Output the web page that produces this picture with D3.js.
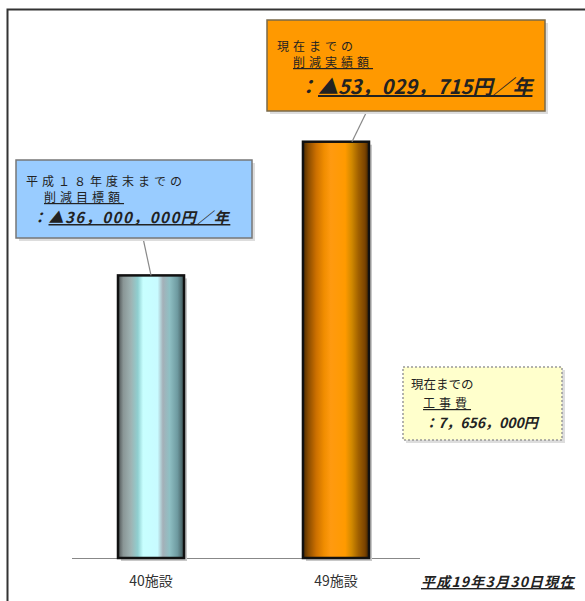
<!DOCTYPE html>
<html>
<head>
<meta charset="utf-8">
<script src="https://cdn.jsdelivr.net/npm/d3@7"></script>
<style>
  html, body { margin: 0; padding: 0; background: #fff; }
  svg { display: block; }
  text { font-family: "Noto Sans CJK JP", "Noto Sans", sans-serif; }
</style>
</head>
<body>
<svg id="chart" width="585" height="601"></svg>
<script>
// Facilities covered and yearly reduction amounts (yen)
const categories = ["40施設", "49施設"];
const values = [36000000, 53029715];
const constructionCost = 7656000;
const asOfLabel = "平成19年3月30日現在";

const svg = d3.select("#chart");
const fmt = v => d3.format(",")(v).replace(/,/g, "，");

// Frame (top and left rules)
svg.append("path")
  .attr("d", "M7.5,601 V9.5 H585")
  .attr("fill", "none").attr("stroke", "#333").attr("stroke-width", 2);

const x = d3.scaleBand().domain(categories)
  .range([25.5, 461.5]).paddingInner(0.643).paddingOuter(0.5);
const y = d3.scaleLinear().domain([0, 60000000]).range([558, 87]);

// Cylinder-like gradients
const defs = svg.append("defs");
const gradients = [
  { id: "g0", stops: [["0%", "#4a4f50"], ["8%", "#8a9696"], ["20%", "#9fb4b4"], ["30%", "#8fcfd0"], ["38%", "#c8ffff"], ["60%", "#c8fbff"], ["68%", "#a4b0b8"], ["78%", "#8fc0c4"], ["90%", "#6e9aa0"], ["100%", "#3f5456"]] },
  { id: "g1", stops: [["0%", "#4a2a00"], ["8%", "#8a4c00"], ["20%", "#cc7000"], ["32%", "#f08d00"], ["42%", "#ff9a10"], ["64%", "#ff9a00"], ["74%", "#d08800"], ["84%", "#a06000"], ["94%", "#7a4300"], ["100%", "#3a2000"]] }
];
gradients.forEach(g => {
  const lg = defs.append("linearGradient").attr("id", g.id)
    .attr("x1", "0%").attr("x2", "100%").attr("y1", "0%").attr("y2", "0%");
  g.stops.forEach(s => lg.append("stop").attr("offset", s[0]).attr("stop-color", s[1]));
});

// Baseline
svg.append("line").attr("x1", 72).attr("x2", 420).attr("y1", 558.5).attr("y2", 558.5)
  .attr("stroke", "#888").attr("stroke-width", 1);

// Bar shadows
svg.selectAll("rect.shadow").data(values).join("rect")
  .attr("class", "shadow")
  .attr("x", (d, i) => x(categories[i]) + 3)
  .attr("y", d => y(d) + 3)
  .attr("width", x.bandwidth())
  .attr("height", d => y(0) - y(d))
  .attr("fill", "#c8c8c8");

// Bars
svg.selectAll("rect.bar").data(values).join("rect")
  .attr("class", "bar")
  .attr("x", (d, i) => x(categories[i]))
  .attr("y", d => y(d))
  .attr("width", x.bandwidth())
  .attr("height", d => y(0) - y(d))
  .attr("fill", (d, i) => `url(#g${i})`)
  .attr("stroke", "#111").attr("stroke-width", 2.5);

// Category labels
svg.selectAll("text.cat").data(categories).join("text")
  .attr("class", "cat")
  .attr("x", d => x(d) + x.bandwidth() / 2)
  .attr("y", 586)
  .attr("text-anchor", "middle")
  .attr("font-size", 14)
  .attr("fill", "#333")
  .text(d => d);

// As-of date
svg.append("text")
  .attr("x", 421).attr("y", 587)
  .attr("font-size", 14).attr("font-weight", "bold").attr("font-style", "italic")
  .attr("letter-spacing", 1.2)
  .attr("fill", "#222").attr("text-decoration", "underline")
  .text(asOfLabel);

// Callout boxes
function callout(opt) {
  const g = svg.append("g");
  g.append("rect").attr("x", opt.x + 3).attr("y", opt.y + 3)
    .attr("width", opt.w).attr("height", opt.h).attr("fill", "#ddd");
  g.append("rect").attr("x", opt.x).attr("y", opt.y)
    .attr("width", opt.w).attr("height", opt.h)
    .attr("fill", opt.fill).attr("stroke", opt.stroke).attr("stroke-width", 1.5)
    .attr("stroke-dasharray", opt.dash || null);
  opt.lines.forEach(l => {
    const t = g.append("text").attr("x", l.x).attr("y", l.y)
      .attr("font-size", l.size).attr("fill", "#222")
      .attr("letter-spacing", l.ls || 0);
    if (l.bold) t.attr("font-weight", "bold");
    if (l.italic) t.attr("font-style", "italic");
    if (l.prefix) t.append("tspan").text(l.prefix);
    const s = t.append("tspan").text(l.text);
    if (l.underline) s.attr("text-decoration", "underline");
  });
  return g;
}

// Leader lines
svg.append("line").attr("x1", 143).attr("y1", 238)
  .attr("x2", x(categories[0]) + x.bandwidth() / 2).attr("y2", y(values[0]))
  .attr("stroke", "#888").attr("stroke-width", 1.2);
svg.append("line").attr("x1", 367).attr("y1", 111)
  .attr("x2", x(categories[1]) + x.bandwidth() / 2 + 16).attr("y2", y(values[1]))
  .attr("stroke", "#888").attr("stroke-width", 1.2);

callout({
  x: 16, y: 160, w: 236, h: 78, fill: "#99ccff", stroke: "#777",
  lines: [
    { x: 26, y: 186, size: 12, ls: 4, text: "平成１８年度末までの" },
    { x: 44, y: 202, size: 12, ls: 4, text: "削減目標額", underline: true },
    { x: 32, y: 223, size: 15, ls: 1.5, bold: true, italic: true, prefix: "：", text: "▲" + fmt(values[0]) + "円／年", underline: true }
  ]
});

callout({
  x: 267, y: 20, w: 278, h: 91, fill: "#ff9900", stroke: "#7a6a4a",
  lines: [
    { x: 277, y: 51, size: 12, ls: 4, text: "現在までの" },
    { x: 293, y: 67, size: 12, ls: 4, text: "削減実績額", underline: true },
    { x: 298, y: 94, size: 20, bold: true, italic: true, prefix: "：", text: "▲" + fmt(values[1]) + "円／年", underline: true }
  ]
});

callout({
  x: 403, y: 367, w: 159, h: 73, fill: "#ffffcc", stroke: "#999", dash: "2,2",
  lines: [
    { x: 411, y: 389, size: 12.5, text: "現在までの" },
    { x: 423, y: 408, size: 12, ls: 4, text: "工事費", underline: true },
    { x: 424, y: 428, size: 14, bold: true, italic: true, prefix: "：", text: fmt(constructionCost) + "円" }
  ]
});
</script>
</body>
</html>
